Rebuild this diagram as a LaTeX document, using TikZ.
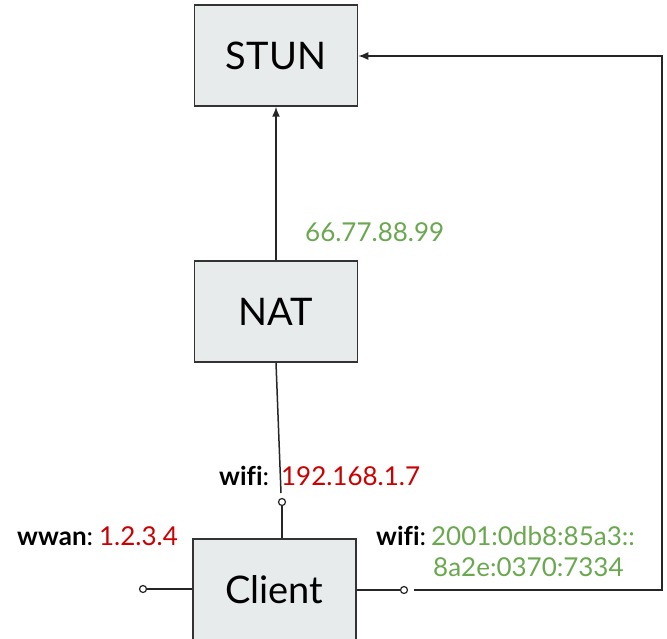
\documentclass[tikz,border=0pt]{standalone}
\usepackage{fontspec}
\setmainfont{Lato}[Ligatures=NoCommon]
\usetikzlibrary{arrows.meta}
\definecolor{boxfill}{HTML}{E8EBEC}
\definecolor{ipgreen}{HTML}{6AA84F}
\definecolor{ipred}{HTML}{CC0000}
\begin{document}
\begin{tikzpicture}[x=1pt,y=-1pt,
  box/.style={draw=black!80,line width=1.5pt,fill=boxfill,minimum width=163pt,minimum height=101pt,inner sep=0pt,font=\fontsize{38}{44}\selectfont},
  wire/.style={line width=1.5pt,draw=black!85},
  tip/.style={-{Latex[length=10pt,width=8pt]}},
  port/.style={circle,draw=black!85,line width=1.2pt,fill=white,inner sep=0pt,minimum size=7pt},
  lbl/.style={font=\fontsize{26}{30}\selectfont,inner sep=0pt}]
\useasboundingbox (0,0) rectangle (667,639);
\clip (0,0) rectangle (667,639);
% boxes
\node[box] (stun) at (276,55.5) {STUN};
\node[box] (nat) at (276,311.5) {NAT};
\node[box] (client) at (274.5,589.5) {Client};
% ports
\node[port] (ptop) at (282,502) {};
\node[port] (pleft) at (143,589) {};
\node[port] (pright) at (404,590) {};
\coordinate (natend) at (281,493);
\coordinate (wstart) at (414,590);
\coordinate (c1) at (662,590);
\coordinate (c2) at (662,56);
% connectors
\draw[wire,tip] (nat) -- (stun);
\draw[wire] (nat.south) -- (natend);
\draw[wire] (client.north -| ptop) -- (ptop);
\draw[wire] (pleft) -- (pleft -| client.west);
\draw[wire] (client.east |- pright) -- (pright);
\draw[wire,tip] (wstart) -- (c1) -- (c2) -- (c2 -| stun.east);
% labels
\node[lbl,anchor=base west,text=ipgreen] (pub) at (305,242) {66.77.88.99};
\node[lbl,anchor=base west] (wifitop) at (219,485) {\textbf{wifi}:\hspace{12pt}\textcolor{ipred}{192.168.1.7}};
\node[lbl,anchor=base west] (wwan) at (17,545) {\textbf{wwan}:\hspace{6pt}\textcolor{ipred}{1.2.3.4}};
\node[lbl,anchor=base west] (wifiright) at (376,545) {\textbf{wifi}:\hspace{5pt}\textcolor{ipgreen}{2001:0db8:85a3::}};
\node[lbl,anchor=base west,text=ipgreen] (wifiright2) at (433,576) {8a2e:0370:7334};
\end{tikzpicture}
\end{document}
